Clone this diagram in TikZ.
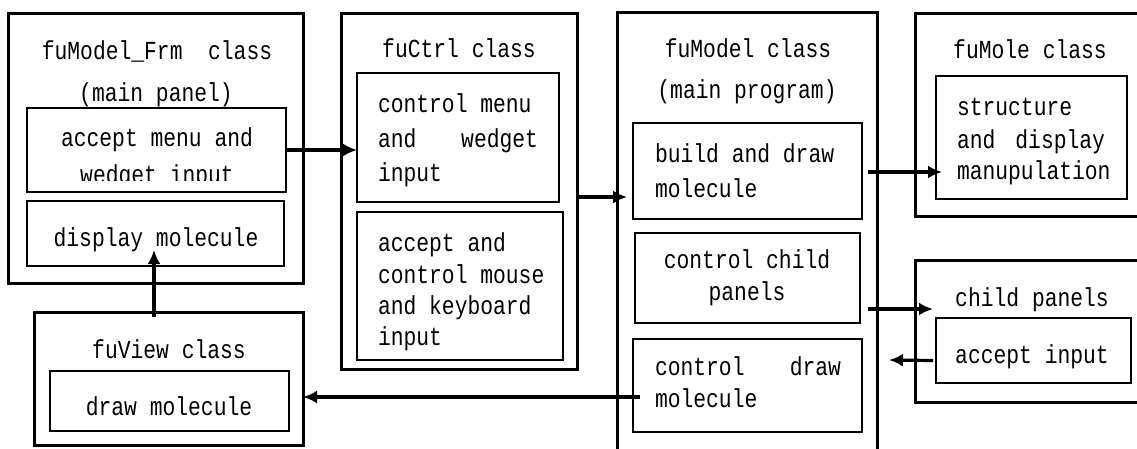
\documentclass[tikz,border=0pt]{standalone}
\usepackage{fontspec}
\usetikzlibrary{arrows.meta}
\newfontfamily\gul{Liberation Mono}[FakeStretch=0.82]
\tikzset{
  obox/.style={draw, line width=3pt, anchor=north west, inner sep=0, outer sep=0},
  ibox/.style={draw, line width=2pt, anchor=north west, inner sep=0, outer sep=0},
  txt/.style={inner sep=0, outer sep=0, anchor=base},
  ltxt/.style={inner sep=0, outer sep=0, anchor=base west},
  rtxt/.style={inner sep=0, outer sep=0, anchor=base east},
  arr/.style={line width=3.2pt, -{Latex[length=14pt,width=13pt]}},
}
\begin{document}
\begin{tikzpicture}[x=1pt,y=-1pt, font=\gul\fontsize{26}{30}\selectfont]
\useasboundingbox (0,0) rectangle (1137,448);
\clip (0,0) rectangle (1137,448);
\fill[white] (0,0) rectangle (1137,448);

% fuModel_Frm
\node[obox, minimum width=295pt, minimum height=270pt] (frm) at (8,13) {};
\node[ibox, minimum width=259pt, minimum height=84pt] (frmA) at (27,108) {};
\node[ibox, minimum width=257pt, minimum height=65pt] (frmB) at (27,201) {};
\node[txt] (frmT1) at (157,59) {fuModel\_Frm\ \ class};
\node[txt] (frmT2) at (156,101) {(main panel)};
\node[txt] (frmA1) at (157,146) {accept menu and};
\begin{scope}
\clip (27,150) rectangle (286,180);
\node[txt] (frmA2) at (157,183) {wedget input};
\end{scope}
\node[txt] (frmB1) at (156,246) {display molecule};

% fuCtrl
\node[obox, minimum width=236pt, minimum height=356pt] (ctrl) at (341,13) {};
\node[ibox, minimum width=202pt, minimum height=129pt] (ctrlA) at (357,73) {};
\node[ibox, minimum width=206pt, minimum height=148pt] (ctrlB) at (357,212) {};
\node[txt] (ctrlT) at (459,57) {fuCtrl class};
\node[ltxt] (ctrlA1) at (378,112) {control menu};
\node[ltxt, text width=160pt] (ctrlA2) at (378,147) {and\hfill wedget};
\node[ltxt] (ctrlA3) at (378,181) {input};
\node[ltxt] (ctrlB1) at (378,251) {accept and};
\node[ltxt] (ctrlB2) at (378,283) {control mouse};
\node[ltxt] (ctrlB3) at (378,314) {and keyboard};
\node[ltxt] (ctrlB4) at (378,345) {input};

% fuModel
\node[obox, minimum width=260pt, minimum height=460pt] (model) at (617,12) {};
\node[ibox, minimum width=229pt, minimum height=96pt] (modelA) at (633,123) {};
\node[ibox, minimum width=225pt, minimum height=90pt] (modelB) at (635,233) {};
\node[ibox, minimum width=229pt, minimum height=93pt] (modelC) at (633,339) {};
\node[txt] (modelT1) at (748,57) {fuModel class};
\node[txt] (modelT2) at (747,98) {(main program)};
\node[ltxt] (modelA1) at (655,162) {build and draw};
\node[ltxt] (modelA2) at (655,197) {molecule};
\node[txt] (modelB1) at (747,268) {control child};
\node[txt] (modelB2) at (747,300) {panels};
\node[ltxt] (modelC1) at (655,375) {control};
\node[rtxt] (modelC2) at (841,375) {draw};
\node[ltxt] (modelC3) at (655,407) {molecule};

% fuMole
\node[obox, minimum width=240pt, minimum height=203pt] (mole) at (915,13) {};
\node[ibox, minimum width=191pt, minimum height=123pt] (moleA) at (936,76) {};
\node[txt] (moleT) at (1030,58) {fuMole class};
\node[ltxt] (moleA1) at (957,115) {structure};
\node[ltxt, text width=148pt] (moleA2) at (957,148) {and\hfill display};
\node[ltxt] (moleA3) at (957,179) {manupulation};

% child panels
\node[obox, minimum width=240pt, minimum height=142pt] (child) at (915,260) {};
\node[ibox, minimum width=195pt, minimum height=65pt] (childA) at (936,318) {};
\node[txt] (childT) at (1032,306) {child panels};
\node[txt] (childA1) at (1032,363) {accept input};

% fuView
\node[obox, minimum width=269pt, minimum height=133pt] (view) at (34,312) {};
\node[ibox, minimum width=239pt, minimum height=60pt] (viewA) at (50,371) {};
\node[txt] (viewT) at (169,358) {fuView class};
\node[txt] (viewA1) at (169,415) {draw molecule};

% connectors
\coordinate (a5end) at (889,360);
\draw[arr] ([xshift=1pt]frmA.east) -- (frmA.east -| ctrlA.west);
\draw[arr, shorten >=6pt] ([yshift=-6pt]ctrl.east) -- ([yshift=-6pt]ctrl.east -| modelA.west);
\draw[arr, shorten >=-6pt] ([xshift=6pt,yshift=-1pt]modelA.east) -- ([yshift=-1pt]modelA.east -| moleA.west);
\draw[arr, shorten >=3pt] ([xshift=8pt,yshift=-31pt]modelB.east) -- ([yshift=-31pt]modelB.east -| childA.west);
\draw[arr] ([xshift=-3pt,yshift=-10pt]childA.west) -- (a5end);
\draw[arr] ([xshift=7pt,yshift=-11.5pt]modelC.west) -- ([yshift=-11.5pt]modelC.west -| view.east);
\draw[arr, shorten >=16.5pt] ([xshift=-14.5pt,yshift=-5pt]view.north) -- ([xshift=-14.5pt]view.north |- frmB.center);
\end{tikzpicture}
\end{document}
